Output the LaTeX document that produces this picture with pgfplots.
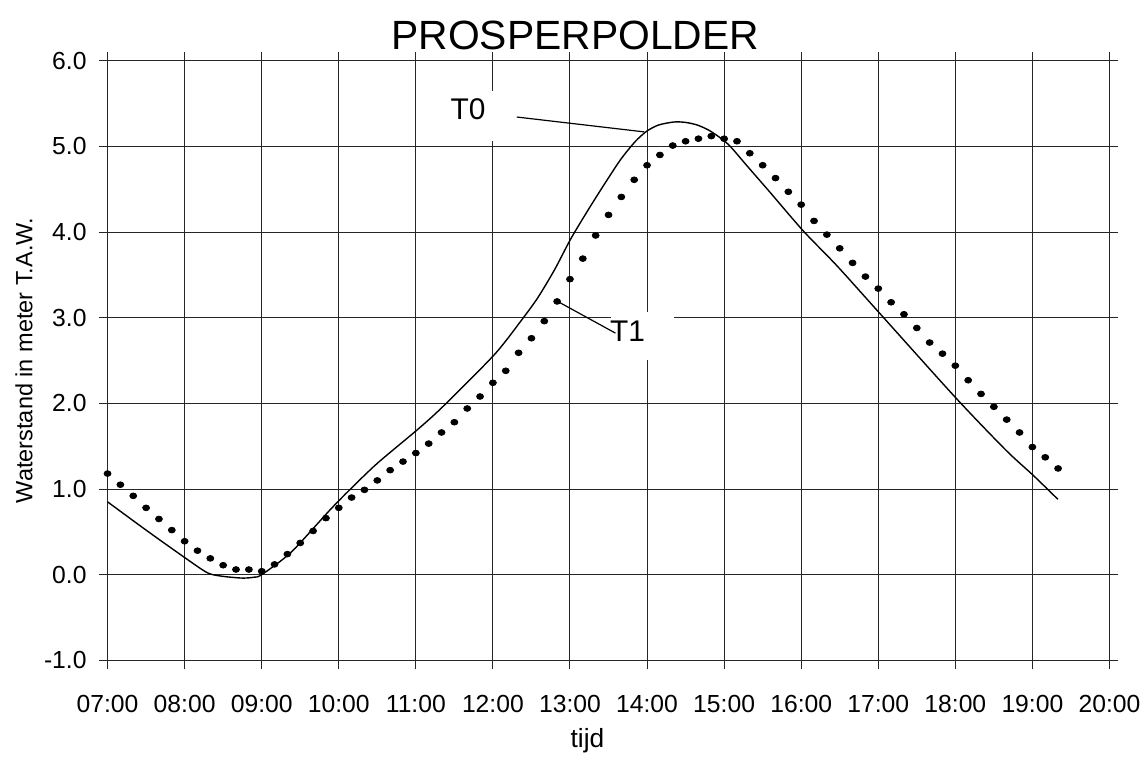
\documentclass[border=0pt]{standalone}
\usepackage{pgfplots}
\pgfplotsset{compat=1.18}
\usepackage{fontspec}
\setmainfont{Liberation Sans}
\begin{document}
\begin{tikzpicture}
\begin{axis}[
  scale only axis,
  width=503pt, height=301pt,
  xmin=7, xmax=20, ymin=-1, ymax=6,
  xtick={7,8,9,10,11,12,13,14,15,16,17,18,19,20},
  xticklabels={07:00,08:00,09:00,10:00,11:00,12:00,13:00,14:00,15:00,16:00,17:00,18:00,19:00,20:00},
  ytick={-1,0,1,2,3,4,5,6},
  /pgf/number format/assume math mode=true,
  yticklabel style={xshift=-2.5pt, /pgf/number format/.cd, fixed, fixed zerofill, precision=1},
  grid=major,
  grid style={black!85, line width=0.5pt},
  axis line style={black!85, line width=0.6pt},
  tick style={black!85, line width=0.5pt},
  tick align=outside,
  major tick length=4.5pt,
  ticklabel style={font=\fontsize{12.4}{14}\selectfont},
  xticklabel style={yshift=-9.5pt},
  every axis title shift=0pt,
  title={PROSPERPOLDER},
  title style={font=\fontsize{20.5}{24}\selectfont, at={(axis description cs:0.4667,1.0183)}, anchor=base},
  xlabel={tijd},
  xlabel style={font=\fontsize{13.2}{15}\selectfont, at={(axis description cs:0.479,-0.145)}, anchor=base},
  ylabel={Waterstand in meter T.A.W.},
  ylabel style={font=\fontsize{11.8}{14}\selectfont, at={(axis description cs:-0.0835,0.5)}, anchor=center},
  clip=false,
]
% T0 (solid line)
\addplot[black, line width=0.7pt, smooth, tension=0.45] coordinates {
(7.00,0.85) (7.50,0.52) (8.00,0.20) (8.30,0.02) (8.50,-0.02) (8.75,-0.04) (8.90,-0.03) (9.00,0.00)
(9.38,0.26) (9.87,0.74) (10.13,0.98) (10.50,1.30) (11.03,1.70) (11.36,1.97) (12.02,2.57)
(12.37,2.97) (12.58,3.23) (12.80,3.56) (13.01,3.92) (13.23,4.25) (13.44,4.55) (13.66,4.85)
(13.85,5.06) (14.00,5.18) (14.15,5.25) (14.35,5.285) (14.50,5.28) (14.65,5.25) (14.80,5.19)
(14.95,5.10) (15.08,5.00) (15.30,4.77) (15.59,4.47) (16.03,4.01) (16.46,3.61) (17.02,3.05)
(18.01,2.06) (18.66,1.45) (19.01,1.16) (19.33,0.88)
};
% T1 (dots, every 10 minutes)
\addplot[only marks, mark=*, mark size=1.45pt, mark options={xscale=1.2, fill=black, draw=black}] coordinates {
(7.0000,1.18) (7.1667,1.05) (7.3333,0.92) (7.5000,0.78) (7.6667,0.65) (7.8333,0.52)
(8.0000,0.39) (8.1667,0.28) (8.3333,0.19) (8.5000,0.11) (8.6667,0.06) (8.8333,0.06)
(9.0000,0.04) (9.1667,0.12) (9.3333,0.24) (9.5000,0.37) (9.6667,0.51) (9.8333,0.66)
(10.0000,0.78) (10.1667,0.90) (10.3333,0.99) (10.5000,1.10) (10.6667,1.22) (10.8333,1.32)
(11.0000,1.42) (11.1667,1.53) (11.3333,1.66) (11.5000,1.78) (11.6667,1.94) (11.8333,2.08)
(12.0000,2.24) (12.1667,2.38) (12.3333,2.59) (12.5000,2.76) (12.6667,2.96) (12.8333,3.19)
(13.0000,3.45) (13.1667,3.69) (13.3333,3.96) (13.5000,4.20) (13.6667,4.41) (13.8333,4.61)
(14.0000,4.78) (14.1667,4.90) (14.3333,5.01) (14.5000,5.06) (14.6667,5.09) (14.8333,5.12)
(15.0000,5.09) (15.1667,5.06) (15.3333,4.92) (15.5000,4.78) (15.6667,4.63) (15.8333,4.47)
(16.0000,4.32) (16.1667,4.13) (16.3333,3.97) (16.5000,3.81) (16.6667,3.64) (16.8333,3.48)
(17.0000,3.34) (17.1667,3.18) (17.3333,3.04) (17.5000,2.88) (17.6667,2.71) (17.8333,2.58)
(18.0000,2.44) (18.1667,2.27) (18.3333,2.11) (18.5000,1.96) (18.6667,1.81) (18.8333,1.66)
(19.0000,1.49) (19.1667,1.37) (19.3333,1.24)
};
% label boxes and annotations
\node[fill=white, minimum width=37pt, minimum height=25.5pt, inner sep=0pt] at (axis cs:11.846,5.355) {};
\node[fill=white, minimum width=32pt, minimum height=24pt, inner sep=0pt] at (axis cs:13.94,2.785) {};
\node[font=\fontsize{15}{17}\selectfont, inner sep=0pt] at (axis cs:11.678,5.43) {T0};
\node[font=\fontsize{15}{17}\selectfont, inner sep=0pt] at (axis cs:13.746,2.843) {T1};
\draw[black, line width=0.6pt] (axis cs:12.31,5.343) -- (axis cs:13.966,5.169);
\draw[black, line width=0.6pt] (axis cs:12.84,3.19) -- (axis cs:13.59,2.82);
\end{axis}
\useasboundingbox (-54pt,-46pt) rectangle (519.5pt,331.5pt);
\end{tikzpicture}
\end{document}
